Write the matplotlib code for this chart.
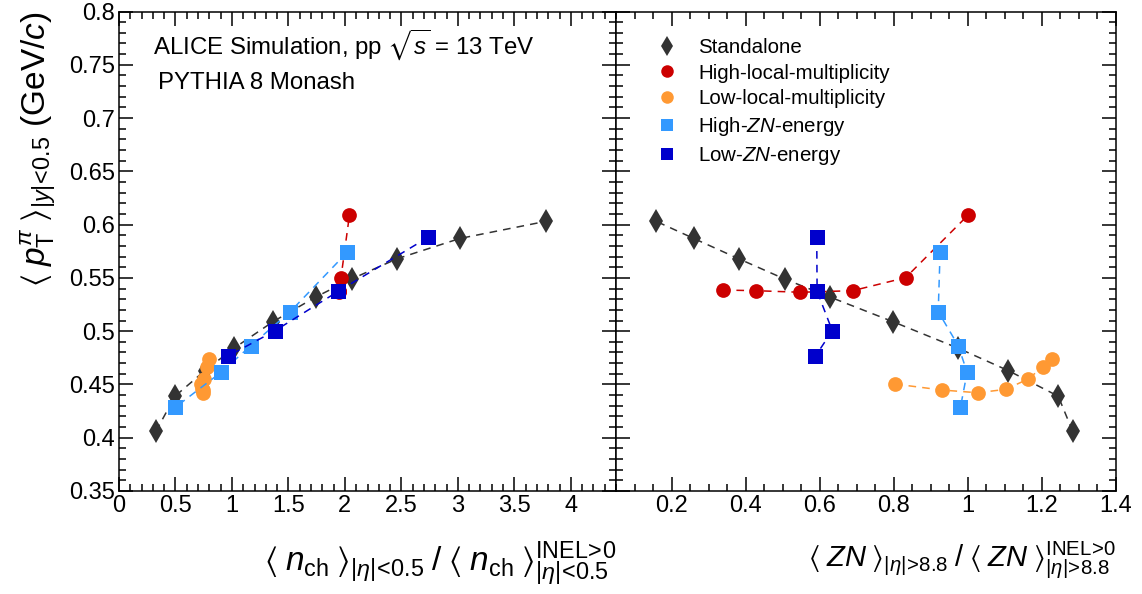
import matplotlib
matplotlib.use("Agg")
import matplotlib.pyplot as plt
from matplotlib.lines import Line2D
from matplotlib.ticker import MultipleLocator, FuncFormatter

plt.rcParams['font.family'] = ['Liberation Sans', 'DejaVu Sans']
plt.rcParams['mathtext.fontset'] = 'custom'
plt.rcParams['mathtext.rm'] = 'Liberation Sans'
plt.rcParams['mathtext.it'] = 'Liberation Sans:italic'
plt.rcParams['mathtext.bf'] = 'Liberation Sans:bold'
plt.rcParams['mathtext.fallback'] = 'stixsans'

# <pT> of pions, |y|<0.5
standalone_y = [0.406, 0.439, 0.463, 0.484, 0.509, 0.532, 0.549, 0.568, 0.587, 0.603]
standalone_nch = [0.327, 0.496, 0.761, 1.018, 1.365, 1.741, 2.059, 2.463, 3.018, 3.776]
standalone_zn = [1.283, 1.244, 1.109, 0.974, 0.797, 0.628, 0.505, 0.381, 0.260, 0.159]

highmult_y = [0.5386, 0.538, 0.5365, 0.538, 0.5502, 0.6087]
highmult_nch = [1.94, 1.95, 1.95, 1.95, 1.965, 2.04]
highmult_zn = [0.338, 0.427, 0.548, 0.689, 0.832, 1.0]

lowmult_y = [0.4504, 0.4448, 0.4422, 0.4454, 0.4551, 0.4667, 0.4739]
lowmult_nch = [0.725, 0.74, 0.745, 0.735, 0.755, 0.78, 0.80]
lowmult_zn = [0.803, 0.929, 1.027, 1.102, 1.163, 1.203, 1.228]

highzn_y = [0.574, 0.5183, 0.4864, 0.4614, 0.4285]
highzn_nch = [2.02, 1.516, 1.168, 0.903, 0.498]
highzn_zn = [0.925, 0.920, 0.974, 0.998, 0.980]

lowzn_y = [0.5881, 0.5374, 0.5004, 0.4764]
lowzn_nch = [2.737, 1.941, 1.381, 0.962]
lowzn_zn = [0.592, 0.593, 0.634, 0.588]

names = ['Standalone', 'High-local-multiplicity', 'Low-local-multiplicity',
         'High-$ZN$-energy', 'Low-$ZN$-energy']
colors = ['#333333', '#cc0000', '#ff9933', '#3399ff', '#0000cc']
markers = ['d', 'o', 'o', 's', 's']
msizes = [12.5, 10.6, 10.6, 10.8, 10.8]

series_y = [standalone_y, highmult_y, lowmult_y, highzn_y, lowzn_y]
series_nch = [standalone_nch, highmult_nch, lowmult_nch, highzn_nch, lowzn_nch]
series_zn = [standalone_zn, highmult_zn, lowmult_zn, highzn_zn, lowzn_zn]

fig = plt.figure(figsize=(11.42, 5.94), dpi=100)
ax1 = fig.add_axes([119/1142, 1-491/594, 497/1142, 479.5/594])
ax2 = fig.add_axes([616/1142, 1-491/594, 500/1142, 479.5/594])

fmt = FuncFormatter(lambda v, p: '%g' % round(v, 3))

for i in range(5):
    ax1.plot(series_nch[i], series_y[i], ls=(0, (5, 4)), lw=1.1, color=colors[i],
             marker=markers[i], ms=msizes[i], mew=0, zorder=3+i)
    ax2.plot(series_zn[i], series_y[i], ls=(0, (5, 4)), lw=1.1, color=colors[i],
             marker=markers[i], ms=msizes[i], mew=0, zorder=3+i)

for ax in (ax1, ax2):
    ax.set_ylim(0.35, 0.8)
    ax.yaxis.set_major_locator(MultipleLocator(0.05))
    ax.yaxis.set_minor_locator(MultipleLocator(0.01))
    ax.tick_params(which='both', direction='in', top=True, right=True, width=1.1,
                   labelsize=17, pad=3)
    ax.tick_params(which='major', length=10)
    ax.tick_params(which='minor', length=5)
    for s in ax.spines.values():
        s.set_linewidth(1.1)
    ax.xaxis.set_major_formatter(fmt)
    ax.yaxis.set_major_formatter(fmt)

ax1.set_xlim(0, 4.4)
ax1.xaxis.set_major_locator(MultipleLocator(0.5))
ax1.xaxis.set_minor_locator(MultipleLocator(0.1))

ax2.set_xlim(0.05, 1.4)
ax2.xaxis.set_major_locator(MultipleLocator(0.2))
ax2.xaxis.set_minor_locator(MultipleLocator(0.05))
ax2.tick_params(labelleft=False)

ax1.set_ylabel(r'$\langle\;p_{\mathrm{T}}^{\pi}\;\rangle_{|y|\!<\!0.5}$ (GeV/$c$)',
               fontsize=24, loc='top', labelpad=8)
ax1.set_xlabel(r'$\langle\;n_{\mathrm{ch}}\;\rangle_{|\eta|\!<\!0.5}\;/\;\langle\;n_{\mathrm{ch}}\;\rangle^{\mathrm{INEL\!>\!0}}_{|\eta|\!<\!0.5}$',
               fontsize=24, loc='right', labelpad=16)
ax2.set_xlabel(r'$\langle\;ZN\;\rangle_{|\eta|\!>\!8.8}\;/\;\langle\;ZN\;\rangle^{\mathrm{INEL\!>\!0}}_{|\eta|\!>\!8.8}$',
               fontsize=21, loc='right', labelpad=16)

ax1.text(0.068, 0.912, r'ALICE Simulation, pp $\sqrt{s}$ = 13 TeV', transform=ax1.transAxes,
         fontsize=17.3, va='baseline', ha='left')
ax1.text(0.078, 0.838, 'PYTHIA 8 Monash', transform=ax1.transAxes,
         fontsize=17.3, va='baseline', ha='left')

handles = [Line2D([], [], ls='none', marker=markers[i], color=colors[i],
                  ms=msizes[i]*0.85, mew=0) for i in range(5)]
ax2.legend(handles, names, loc='upper left', bbox_to_anchor=(0.082, 0.945),
           frameon=False, fontsize=14.8, handlelength=1.0, handletextpad=1.0,
           labelspacing=0.33, borderpad=0, borderaxespad=0)

fig.savefig('out.png', dpi=100)
